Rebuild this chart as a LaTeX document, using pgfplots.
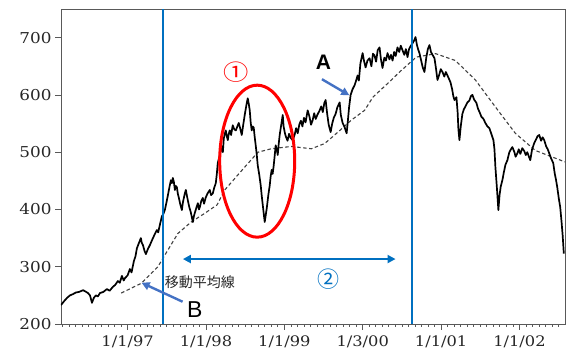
\documentclass[border=0pt]{standalone}
\usepackage{pgfplots}
\pgfplotsset{compat=1.18}
\usepackage{fontspec}
\setmainfont{DejaVu Serif}[FakeStretch=1.12]
\newfontfamily\labelsans{Liberation Sans}
\newfontfamily\cjk{Noto Sans CJK JP}
\usetikzlibrary{arrows.meta}
\definecolor{lineblue}{RGB}{0,112,192}
\definecolor{arrowblue}{RGB}{68,114,196}
\definecolor{ringred}{RGB}{255,0,0}

% daily close (sampled)
\pgfplotstableread{
t v
1996.150 233
1996.190 240
1996.230 246
1996.265 250
1996.300 252
1996.340 255
1996.380 256
1996.431 259
1996.460 257
1996.494 254
1996.520 250
1996.545 237
1996.570 246
1996.596 250
1996.620 248
1996.647 254
1996.690 256
1996.736 261
1996.770 258
1996.813 265
1996.840 268
1996.876 275
1996.900 272
1996.927 284
1996.950 276
1996.966 280
1997.000 285
1997.029 296
1997.050 290
1997.080 310
1997.100 318
1997.118 332
1997.140 340
1997.169 350
1997.180 342
1997.195 338
1997.215 328
1997.233 322
1997.259 331
1997.285 338
1997.310 346
1997.340 355
1997.373 364
1997.390 360
1997.411 373
1997.437 388
1997.455 392
1997.475 399
1997.495 412
1997.514 425
1997.535 440
1997.552 451
1997.565 446
1997.577 455
1997.590 448
1997.603 434
1997.615 441
1997.628 439
1997.640 428
1997.654 420
1997.670 410
1997.692 399
1997.705 412
1997.717 420
1997.730 428
1997.743 434
1997.755 425
1997.768 416
1997.785 405
1997.806 395
1997.820 386
1997.832 378
1997.845 388
1997.857 394
1997.875 402
1997.896 411
1997.910 400
1997.921 404
1997.940 415
1997.959 420
1997.975 410
1997.997 421
1998.020 428
1998.048 434
1998.065 425
1998.087 428
1998.105 438
1998.125 446
1998.138 462
1998.150 481
1998.176 495
1998.200 510
1998.215 500
1998.227 524
1998.240 532
1998.252 538
1998.265 528
1998.278 521
1998.290 532
1998.303 538
1998.320 530
1998.341 547
1998.360 540
1998.380 538
1998.400 545
1998.418 551
1998.435 542
1998.456 530
1998.475 548
1998.494 565
1998.515 582
1998.532 594
1998.545 585
1998.558 573
1998.570 552
1998.583 538
1998.595 545
1998.609 543
1998.620 528
1998.634 512
1998.648 495
1998.660 477
1998.680 460
1998.698 442
1998.710 425
1998.724 408
1998.737 392
1998.749 378
1998.762 390
1998.775 402
1998.795 425
1998.813 442
1998.825 458
1998.838 469
1998.850 462
1998.864 477
1998.877 495
1998.889 512
1998.902 505
1998.915 495
1998.928 515
1998.940 530
1998.960 548
1998.979 565
1998.990 545
1999.004 535
1999.017 528
1999.040 520
1999.060 532
1999.080 525
1999.106 521
1999.130 530
1999.150 542
1999.170 533
1999.190 548
1999.210 555
1999.230 545
1999.250 560
1999.270 552
1999.297 573
1999.320 562
1999.340 548
1999.361 556
1999.380 568
1999.400 558
1999.420 565
1999.450 573
1999.470 580
1999.490 570
1999.510 586
1999.526 591
1999.545 568
1999.565 548
1999.590 535
1999.610 550
1999.630 560
1999.654 567
1999.675 578
1999.705 587
1999.720 565
1999.743 551
1999.765 545
1999.794 533
1999.810 555
1999.825 578
1999.845 600
1999.870 610
1999.896 617
1999.915 625
1999.934 634
1999.950 625
1999.970 655
1999.998 673
2000.015 660
2000.036 648
2000.060 660
2000.087 664
2000.110 650
2000.130 672
2000.150 669
2000.170 658
2000.190 678
2000.214 683
2000.232 662
2000.252 647
2000.275 665
2000.295 660
2000.316 673
2000.340 662
2000.360 670
2000.380 660
2000.400 675
2000.420 668
2000.443 683
2000.465 675
2000.485 686
2000.507 678
2000.530 670
2000.550 680
2000.571 666
2000.590 680
2000.610 685
2000.634 690
2000.655 695
2000.673 701
2000.690 688
2000.705 680
2000.723 673
2000.745 660
2000.765 648
2000.787 640
2000.810 665
2000.830 680
2000.851 687
2000.870 675
2000.890 670
2000.915 664
2000.935 645
2000.953 626
2000.975 635
2000.995 645
2001.017 640
2001.040 632
2001.060 640
2001.080 634
2001.100 628
2001.119 622
2001.140 610
2001.155 598
2001.170 591
2001.195 596
2001.210 570
2001.220 540
2001.233 521
2001.250 545
2001.271 567
2001.290 575
2001.310 580
2001.335 587
2001.360 590
2001.380 598
2001.399 600
2001.420 592
2001.450 586
2001.470 576
2001.490 570
2001.513 562
2001.540 558
2001.564 551
2001.590 545
2001.615 542
2001.640 532
2001.667 521
2001.680 505
2001.692 474
2001.710 440
2001.730 399
2001.745 425
2001.760 440
2001.781 451
2001.800 465
2001.820 478
2001.845 486
2001.870 500
2001.890 505
2001.908 509
2001.935 500
2001.950 492
2001.972 498
2001.990 505
2002.010 497
2002.035 507
2002.060 502
2002.080 495
2002.099 500
2002.120 492
2002.137 486
2002.160 505
2002.188 516
2002.210 522
2002.230 528
2002.251 530
2002.275 520
2002.295 526
2002.315 521
2002.340 510
2002.360 505
2002.379 498
2002.400 490
2002.430 481
2002.450 462
2002.465 452
2002.481 439
2002.500 420
2002.519 404
2002.535 380
2002.550 355
2002.565 323
}\price

% moving average
\pgfplotstableread{
t v
1996.918 254
1997.173 271
1997.386 300
1997.513 329
1997.641 358
1997.810 378
1997.981 393
1998.141 408
1998.239 434
1998.494 474
1998.664 500
1998.834 506
1999.089 510
1999.344 506
1999.513 515
1999.683 535
1999.854 556
2000.023 573
2000.129 596
2000.380 628
2000.469 640
2000.682 666
2000.931 672
2001.182 660
2001.437 626
2001.692 579
2001.946 533
2002.201 503
2002.580 483
}\mavg

\begin{document}
\begin{tikzpicture}
\useasboundingbox (-61pt,-27pt) rectangle (505pt,324pt);
\begin{axis}[
  scale only axis, width=504pt, height=315pt,
  xmin=1996.15, xmax=2002.58, ymin=200, ymax=750,
  axis line style={black!65, line width=0.8pt},
  xtick={1997,...,2002},
  xticklabels={1/1/97,1/1/98,1/1/99,1/3/00,1/1/01,1/1/02},
  minor xtick={1996.1666667,1996.25,...,2002.5},
  ytick={200,300,...,700},
  yticklabels={200,300,400,500,600,700},
  tick align=outside, xtick pos=bottom, ytick pos=left,
  major tick length=6pt, minor tick length=3pt,
  tick style={black!65, line width=0.6pt},
  /pgf/number format/assume math mode=true,
  ticklabel style={text=black!85},
  xticklabel style={font=\fontsize{14.5}{16}\selectfont, inner sep=0.5pt, yshift=-5pt},
  yticklabel style={font=\fontsize{15}{17}\selectfont},
]
\addplot[black!75, line width=1.1pt, dash pattern=on 3.5pt off 2.5pt] table[x=t,y=v] {\mavg};
\addplot[black, line width=1.7pt, line join=round] table[x=t,y=v] {\price};

% period markers
\draw[lineblue, line width=2pt] (axis cs:1997.446,200) -- (axis cs:1997.446,750);
\draw[lineblue, line width=2pt] (axis cs:2000.634,200) -- (axis cs:2000.634,750);
\draw[lineblue, line width=2pt, {Triangle[length=8pt,width=8pt]}-{Triangle[length=8pt,width=8pt]}]
  (axis cs:1997.705,313.4) -- (axis cs:2000.418,313.4);
\node[lineblue, font=\cjk\fontsize{22}{24}\selectfont] at (axis cs:1999.565,278.5) {②};

% crash ring
\draw[ringred, line width=3pt] (axis cs:1998.653,484.3) ellipse [x radius=37.5pt, y radius=76pt];
\node[ringred, font=\cjk\fontsize{22}{24}\selectfont, xscale=1.15] at (axis cs:1998.382,639.6) {①};

% callouts
\draw[arrowblue, line width=2.4pt, -{Triangle[length=8pt,width=8pt]}]
  (axis cs:1999.479,627.4) -- (axis cs:1999.828,599.4);
\node[font=\labelsans\bfseries\fontsize{21}{23}\selectfont] at (axis cs:1999.497,657) {A};
\draw[arrowblue, line width=2.4pt, -{Triangle[length=8pt,width=8pt]}]
  (axis cs:1997.701,238.9) -- (axis cs:1997.178,272.0);
\node[font=\labelsans\fontsize{23}{25}\selectfont] at (axis cs:1997.857,224.4) {B};
\node[black!85, font=\cjk\fontsize{14}{16}\selectfont] at (axis cs:1997.921,273.3) {移動平均線};
\end{axis}
\end{tikzpicture}
\end{document}
